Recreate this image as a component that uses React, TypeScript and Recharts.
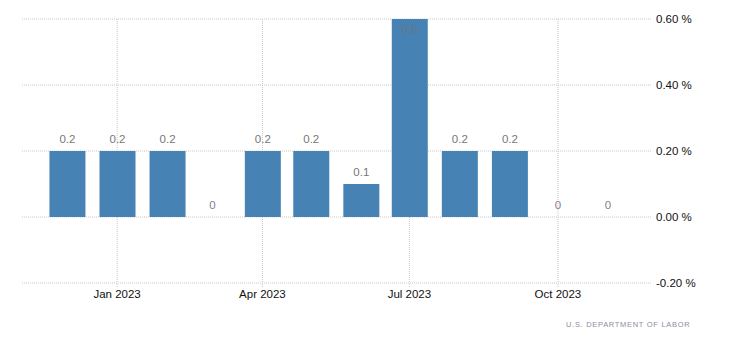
import React from "react";
import { ComposedChart, Bar, Line, XAxis, YAxis, CartesianGrid, LabelList } from "recharts";

const months = [
  "2022-12-01", "2023-01-01", "2023-02-01", "2023-03-01", "2023-04-01", "2023-05-01",
  "2023-06-01", "2023-07-01", "2023-08-01", "2023-09-01", "2023-10-01", "2023-11-01",
];
const values = [0.2, 0.2, 0.2, 0, 0.2, 0.2, 0.1, 0.6, 0.2, 0.2, 0, 0];
const xTickDates = ["2023-01-01", "2023-04-01", "2023-07-01", "2023-10-01"];
const yTicks = [-0.2, 0, 0.2, 0.4, 0.6];
const monthNames = ["Jan", "Feb", "Mar", "Apr", "May", "Jun", "Jul", "Aug", "Sep", "Oct", "Nov", "Dec"];
const source = "U.S. DEPARTMENT OF LABOR";

const toTs = (s: string) => Date.parse(s + "T00:00:00Z");
const DAY = 86400000;

const data = months.map((m, i) => ({ t: toTs(m), v: values[i] }));
const xTicks = xTickDates.map(toTs);
const xDomain = [toTs(months[0]) - 27.9 * DAY, toTs(months[months.length - 1]) + 27.25 * DAY];

const FONT = "'Liberation Sans', Arial, sans-serif";
const PLOT_TOP = 19;

const BarLabel = (props: any) => {
  const { x, y, width, value } = props;
  if (value === 0) return null;
  const cx = x + width / 2;
  const inside = y - 20 < PLOT_TOP;
  return (
    <text
      x={cx}
      y={inside ? y + 14 : y - 8}
      textAnchor="middle"
      fontFamily={FONT}
      fontSize={11.5}
      fill={inside ? "#6b7480" : "#777"}
    >
      {String(value)}
    </text>
  );
};

const ZeroLabel = (props: any) => {
  const { x, y, value } = props;
  if (value !== 0) return null;
  return (
    <text x={x} y={y - 8} textAnchor="middle" fontFamily={FONT} fontSize={11.5} fill="#857d95" stroke="none">
      {String(value)}
    </text>
  );
};

export default function App() {
  return (
    <div style={{ position: "absolute", left: 0, top: 0, width: 732, height: 351, background: "#fff" }}>
      <ComposedChart
        width={732}
        height={351}
        data={data}
        margin={{ top: PLOT_TOP, right: 0, left: 22, bottom: 38 }}
      >
        <CartesianGrid stroke="#c8c8c8" strokeDasharray="1 1" syncWithTicks />
        <XAxis
          dataKey="t"
          type="number"
          scale="linear"
          domain={xDomain}
          ticks={xTicks}
          allowDataOverflow
          height={30}
          axisLine={false}
          tickLine={{ stroke: "#c8c8c8", strokeDasharray: "1 1" }}
          tickSize={4}
          tickMargin={3}
          tick={{ fill: "#111", fontSize: 11.5, fontFamily: FONT }}
          tickFormatter={(t: number) => {
            const d = new Date(t);
            return monthNames[d.getUTCMonth()] + " " + d.getUTCFullYear();
          }}
        />
        <YAxis
          orientation="right"
          domain={[-0.2, 0.6]}
          ticks={yTicks}
          width={80}
          axisLine={false}
          tickLine={false}
          tickSize={0}
          tickMargin={4}
          tick={{ fill: "#111", fontSize: 11.5, fontFamily: FONT, textAnchor: "start" }}
          tickFormatter={(v: number) => v.toFixed(2) + " %"}
        />
        <Bar dataKey="v" fill="#4682B4" barSize={36} isAnimationActive={false}>
          <LabelList dataKey="v" content={BarLabel} />
        </Bar>
        <Line
          dataKey="v"
          stroke="none"
          dot={false}
          activeDot={false}
          isAnimationActive={false}
        >
          <LabelList dataKey="v" content={ZeroLabel} />
        </Line>
      </ComposedChart>
      <div
        style={{
          position: "absolute",
          left: 566,
          top: 320,
          fontFamily: FONT,
          fontSize: 7.5,
          letterSpacing: 0.7,
          lineHeight: "10px",
          color: "#8b8fa0",
          whiteSpace: "nowrap",
        }}
      >
        {source}
      </div>
    </div>
  );
}
